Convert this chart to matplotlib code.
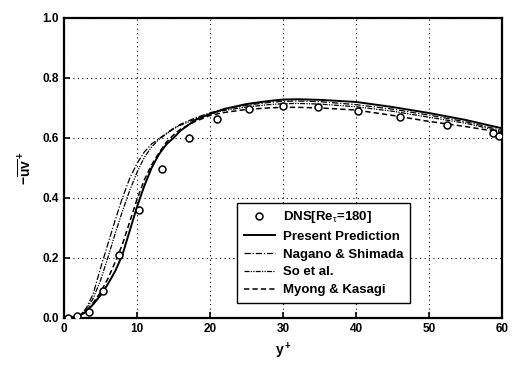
import matplotlib
matplotlib.use('Agg')
import matplotlib.pyplot as plt

# DNS data (Re_tau = 180)
dns_y = [0.6, 1.8, 3.4, 5.4, 7.6, 10.3, 13.4, 17.1, 21.0, 25.3, 30.0, 34.8, 40.3, 46.0, 52.5, 58.8, 59.6]
dns_uv = [0.0, 0.005, 0.02, 0.09, 0.21, 0.36, 0.495, 0.60, 0.663, 0.697, 0.708, 0.703, 0.69, 0.67, 0.643, 0.616, 0.608]

# model curves, read at these y+ positions
yp = [0, 2, 3, 4, 5, 6, 7, 8, 9, 10, 11, 12, 13, 14, 15, 16, 18, 20, 22, 25, 28, 30, 32, 35, 40, 45, 50, 55, 60]
present = [0.0, 0.005, 0.02, 0.045, 0.075, 0.112, 0.155, 0.21, 0.29, 0.37, 0.44, 0.50, 0.545, 0.578, 0.60, 0.625, 0.66, 0.68,
           0.697, 0.713, 0.723, 0.728, 0.729, 0.727, 0.72, 0.703, 0.683, 0.66, 0.632]
nagano = [0.0, 0.005, 0.03, 0.08, 0.165, 0.245, 0.325, 0.40, 0.465, 0.515, 0.553, 0.58, 0.597, 0.615, 0.632, 0.646, 0.667, 0.684,
          0.696, 0.709, 0.718, 0.722, 0.723, 0.721, 0.711, 0.696, 0.676, 0.654, 0.625]
so_et_al = [0.0, 0.005, 0.025, 0.065, 0.125, 0.20, 0.28, 0.355, 0.425, 0.485, 0.535, 0.57, 0.595, 0.613, 0.63, 0.643, 0.663, 0.68,
            0.692, 0.703, 0.711, 0.714, 0.715, 0.713, 0.704, 0.689, 0.669, 0.649, 0.621]
myong = [0.0, 0.005, 0.02, 0.05, 0.085, 0.13, 0.185, 0.245, 0.32, 0.395, 0.46, 0.51, 0.55, 0.585, 0.61, 0.63, 0.655, 0.675,
         0.685, 0.695, 0.70, 0.702, 0.702, 0.70, 0.693, 0.675, 0.655, 0.638, 0.618]

plt.rcParams['font.family'] = ['Liberation Sans', 'DejaVu Sans']
plt.rcParams['mathtext.fontset'] = 'custom'
plt.rcParams['mathtext.rm'] = 'Liberation Sans'
plt.rcParams['mathtext.it'] = 'Liberation Sans'
plt.rcParams['mathtext.bf'] = 'Liberation Sans:bold'

fig = plt.figure(figsize=(5.16, 3.67), dpi=100)
ax = fig.add_axes([0.124, 0.134, 0.849, 0.817])

ax.plot(dns_y, dns_uv, 'o', mfc='white', mec='black', ms=5, mew=1.1, ls='none', label='DNS[Re$_\\tau$=180]', zorder=5)
ax.plot(yp, present, color='black', lw=1.4, label='Present Prediction')
ax.plot(yp, nagano, color='black', lw=0.9, ls=(0, (5, 1.5, 1, 1.5)), label='Nagano & Shimada')
ax.plot(yp, so_et_al, color='black', lw=0.9, ls=(0, (4, 1, 1, 1, 1, 1)), label='So et al.')
ax.plot(yp, myong, color='black', lw=1.1, ls=(0, (3.5, 2)), label='Myong & Kasagi')

ax.set_xlim(0, 60)
ax.set_ylim(0, 1.0)
ax.set_xticks([0, 10, 20, 30, 40, 50, 60])
ax.set_yticks([0.0, 0.2, 0.4, 0.6, 0.8, 1.0])
ax.set_yticklabels(['0.0', '0.2', '0.4', '0.6', '0.8', '1.0'])
ax.grid(True, color='black', ls=(0, (1, 3)), lw=0.8)
ax.tick_params(direction='in', length=4, width=1.2, labelsize=8.5)
for lab in ax.get_xticklabels() + ax.get_yticklabels():
    lab.set_fontweight('bold')
for sp in ax.spines.values():
    sp.set_linewidth(1.6)

ax.set_xlabel(r'$\mathbf{y^+}$', fontsize=10, labelpad=4)
ax.set_ylabel(r'$\mathbf{-\overline{uv}^+}$', fontsize=10, labelpad=6)

leg = ax.legend(loc='lower left', bbox_to_anchor=(0.395, 0.05), borderaxespad=0, fancybox=False,
                framealpha=1, edgecolor='black', fontsize=9.5, handlelength=2.4, handletextpad=0.55,
                labelspacing=0.42, borderpad=0.5)
leg.get_frame().set_linewidth(1.0)
for t in leg.get_texts():
    t.set_fontweight('bold')

fig.savefig('out.png', dpi=100)
